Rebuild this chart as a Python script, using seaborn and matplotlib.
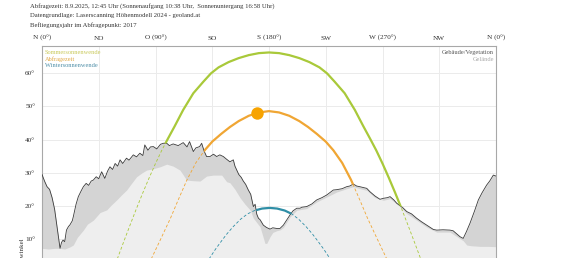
import numpy as np
import pandas as pd
import matplotlib
matplotlib.use("Agg")
import matplotlib.pyplot as plt
from matplotlib.patches import Polygon
import seaborn as sns

# ---------------- data ----------------
tick_az = [0, 45, 90, 135, 180, 225, 270, 315, 360]
tick_labels = ["N (0°)", "NO", "O (90°)", "SO", "S (180°)", "SW", "W (270°)", "NW", "N (0°)"]
ytick_vals = [10, 20, 30, 40, 50, 60]
ytick_labels = ["10°", "20°", "30°", "40°", "50°", "60°"]

header_lines = [
    "Abfragezeit: 8.9.2025, 12:45 Uhr (Sonnenaufgang 10:38 Uhr,  Sonnenuntergang 16:58 Uhr)",
    "Datengrundlage: Laserscanning Höhenmodell 2024 - geoland.at",
    "Befliegungsjahr im Abfragepunkt: 2017",
]
legend_left = ["Sommersonnenwende", "Abfragezeit", "Wintersonnenwende"]
legend_right = ["Gebäude/Vegetation", "Gelände"]

# horizon incl. buildings / vegetation
outer_az = [0, 2, 4, 6, 8, 10, 12, 13, 14.3, 15.5, 16.7, 18, 19.4, 21, 22, 24, 24.8, 27, 28.8, 31,
            32.8, 35, 37, 39, 40.7, 43, 45, 47.3, 49.8, 52, 53.9, 56, 58, 60, 61.9, 64, 67, 69, 72.4,
            75, 77.6, 80, 81.5, 84, 86, 88.3, 91, 94, 96.2, 98.9, 101, 104, 108, 112, 115, 117, 120,
            122, 125, 126.6, 128.5, 130.5, 133.2, 136, 138.5, 141, 143.8, 146, 149, 151.7, 153, 154.4,
            156, 158, 159.6, 161.5, 163.6, 165.5, 167.6, 169, 170.3, 171.6, 173, 175.5, 178, 180.8,
            183, 186.1, 188.7, 191.4, 194, 196.7, 199, 202, 204.6, 206, 209.9, 214, 217.8, 222, 225.8,
            231, 233.7, 238, 241.6, 244, 246.9, 249.5, 252, 257.5, 260, 264, 268, 270.7, 274, 276,
            279, 281.3, 286, 289.2, 293, 297, 301, 305, 310.3, 313, 318, 323.5, 326, 331.5, 334,
            336.5, 339.4, 343, 346, 349, 352.6, 355, 357.9, 360]
outer_el = [29.5, 27.5, 25.8, 25.0, 22.5, 19.0, 13.5, 10.7, 7.2, 9.0, 9.7, 9.2, 12.7, 13.8, 14.2,
            15.5, 16.7, 20.5, 22.8, 24.5, 25.8, 26.8, 26.2, 27.5, 27.8, 28.8, 28.2, 30.3, 28.3, 30.5,
            31.8, 31.0, 32.8, 32.0, 33.9, 32.8, 34.4, 33.8, 35.4, 34.8, 35.9, 35.2, 38.4, 36.8, 37.8,
            37.9, 37.2, 38.6, 38.9, 38.9, 38.2, 38.7, 38.2, 39.1, 37.8, 39.4, 36.4, 37.5, 37.9, 38.9,
            36.6, 34.9, 34.9, 35.6, 34.9, 35.4, 34.9, 34.2, 33.3, 33.9, 32.0, 30.8, 29.5, 28.6, 27.5,
            26.5, 24.8, 23.5, 19.8, 20.5, 17.5, 16.3, 15.8, 14.2, 13.5, 13.0, 13.4, 13.2, 13.2, 14.2,
            15.7, 17.3, 18.5, 19.3, 19.3, 19.6, 19.8, 20.6, 21.8, 22.5, 23.3, 24.8, 24.9, 25.2, 25.8,
            26.0, 26.6, 26.0, 25.8, 25.3, 24.3, 23.0, 22.0, 22.3, 22.5, 22.8, 21.8, 20.8, 19.5, 18.3,
            17.6, 16.3, 15.2, 14.2, 12.9, 12.7, 12.8, 12.7, 12.5, 10.7, 10.2, 12.2, 14.8, 18.5, 21.8,
            24.0, 26.3, 27.5, 29.3, 29.0]

# terrain only
inner_az = [0, 5, 10, 14, 18, 22, 24.8, 28, 32.8, 36, 40.7, 46, 51.3, 55, 59.2, 63, 67.1, 71, 75, 79,
            82.9, 88, 93.6, 98.9, 104, 109.4, 114.7, 120, 125.3, 130.5, 135.8, 142.5, 146.4, 149, 153,
            157, 161, 165, 167.6, 172.9, 176.8, 178.2, 180.8, 183, 186.1, 189, 191.4, 196.7, 202,
            209.9, 217.8, 225.8, 233.7, 241.6, 246.9, 252, 257.5, 264, 270.7, 276, 282.6, 289.2, 297,
            305, 313, 323.5, 331.5, 334, 336.8, 340, 347, 353, 360]
inner_el = [7.2, 7.0, 7.2, 7.2, 7.0, 7.6, 8.2, 10.5, 12.7, 14.5, 15.7, 18.0, 18.8, 20.3, 21.8, 23.3,
            24.8, 26.8, 28.8, 29.9, 30.8, 31.2, 31.8, 32.6, 32.0, 30.8, 27.8, 27.6, 27.5, 29.0, 29.3,
            29.3, 27.3, 27.0, 25.0, 22.5, 20.5, 18.8, 16.3, 13.7, 8.7, 8.7, 10.7, 12.0, 12.5, 12.8,
            13.5, 16.7, 18.7, 19.2, 21.2, 22.7, 24.2, 25.2, 25.8, 25.2, 24.7, 22.5, 21.7, 22.2, 20.2,
            17.7, 15.7, 13.6, 12.1, 12.1, 10.1, 9.5, 8.2, 8.0, 7.8, 7.8, 7.7]

# sun paths
summer_az = [55, 60, 65, 70, 75, 80, 85, 90, 95, 100, 105, 112, 120, 128, 134, 140, 148, 156, 164,
             172, 180, 188, 196, 204, 212, 220, 226, 232, 240, 248, 255, 260, 265, 270, 275, 280,
             285, 290, 295, 300, 305]
summer_el = [-1.2, 4.3, 9.4, 14.4, 19.3, 24.0, 28.5, 32.8, 36.8, 40.4, 43.9, 49.0, 54.0, 57.5,
             60.0, 61.8, 63.4, 64.6, 65.5, 66.1, 66.3, 66.1, 65.5, 64.6, 63.4, 61.8, 60.0, 57.5,
             54.0, 49.0, 43.9, 40.4, 36.8, 32.8, 28.5, 24.0, 19.3, 14.4, 9.4, 4.3, -1.2]

query_az = [80, 87, 94, 102, 108, 115, 122, 129, 135, 142, 149, 156, 164, 172, 180, 188, 196, 204,
            211, 218, 225, 231, 238, 245, 252, 258, 266, 273, 280]
query_el = [-1.5, 4.3, 9.9, 16.4, 21.8, 27.9, 33.0, 36.8, 39.4, 41.7, 43.8, 45.6, 47.2, 48.2, 48.6,
            48.2, 47.2, 45.6, 43.8, 41.7, 39.4, 36.8, 33.0, 27.9, 21.8, 16.4, 9.9, 4.3, -1.5]
sun_az = [170.3]
sun_el = [48.1]

winter_az = [125.5, 133, 137.5, 142.5, 146.5, 151.5, 157.5, 163, 168.5, 174.5, 180.5, 186.5,
             192.5, 198, 203.5, 209.5, 214.5, 218.5, 223.5, 228, 235.5]
winter_el = [-0.3, 4.3, 6.9, 9.5, 11.5, 13.7, 16.0, 17.6, 18.6, 19.2, 19.4, 19.2, 18.6, 17.6,
             16.0, 13.7, 11.5, 9.5, 6.9, 4.3, -0.3]

# ---------------- styling ----------------
sns.set_theme(style="white")
plt.rcParams["font.family"] = ["Liberation Serif", "DejaVu Serif"]

W, H = 579, 258
fig = plt.figure(figsize=(W / 100, H / 100), dpi=100)
fig.patch.set_facecolor("white")


def fx(px):
    return px / W


def fy(py):
    return 1 - py / H


y0_px, ytop_px, x0_px, x1_px = 272.2, 45.5, 42, 496
ax = fig.add_axes([fx(x0_px), fy(y0_px), fx(x1_px - x0_px), (y0_px - ytop_px) / H])
ax.set_xlim(0, 360)
ax.set_ylim(0, 68.4)
ax.set_facecolor("white")

GREEN = "#a9c93a"
ORANGE = "#f0a634"
TEAL = "#2f8ea6"
SUN = "#f7a300"

# grid
ax.set_xticks(tick_az)
ax.set_yticks(ytick_vals)
ax.grid(True, color="#ebebeb", linewidth=0.7, zorder=0)
ax.set_axisbelow(True)

# terrain
ax.fill_between(outer_az, -5, outer_el, color="#d4d4d4", linewidth=0, zorder=1)
ax.fill_between(inner_az, -5, inner_el, color="#eeeeee", linewidth=0, zorder=2)
sns.lineplot(x=outer_az, y=outer_el, ax=ax, sort=False, estimator=None, color="#3a3a3a",
             linewidth=0.6, zorder=3)

# clip region above the horizon
sky = Polygon(list(zip(outer_az, outer_el)) + [(360, 100), (0, 100)], closed=True,
              transform=ax.transData, facecolor="none", edgecolor="none")
ax.add_patch(sky)

for az, el, col in [(summer_az, summer_el, GREEN), (query_az, query_el, ORANGE),
                    (winter_az, winter_el, TEAL)]:
    sns.lineplot(x=az, y=el, ax=ax, sort=False, estimator=None, color=col, linewidth=0.6,
                 linestyle=(0, (3.5, 2.5)), zorder=4)
    sns.lineplot(x=az, y=el, ax=ax, sort=False, estimator=None, color=col, linewidth=1.6,
                 zorder=5)
    ax.lines[-1].set_clip_path(sky)

sns.scatterplot(x=sun_az, y=sun_el, ax=ax, color=SUN, s=80, linewidth=0, zorder=6)

# ticks / labels
ax.xaxis.tick_top()
ax.set_xticklabels(tick_labels, fontsize=5.2, color="#333333")
ax.set_yticklabels(ytick_labels, fontsize=5.2, color="#333333")
ax.tick_params(axis="x", length=0, pad=3.5)
ax.tick_params(axis="y", length=0, pad=5)
ax.set_xlabel("")
ax.set_ylabel("")
for side in ["left", "top", "right"]:
    ax.spines[side].set_color("#a8a8a8")
    ax.spines[side].set_linewidth(0.8)
ax.spines["bottom"].set_visible(False)

# legends inside
left_cols = ["#c9c95a", "#e0a845", "#4f8fa8"]
for i, (t, c) in enumerate(zip(legend_left, left_cols)):
    fig.text(fx(45), fy(52.5 + i * 6.6), t, fontsize=4.6, color=c, ha="left", va="center")
right_cols = ["#555555", "#aaaaaa"]
for i, (t, c) in enumerate(zip(legend_right, right_cols)):
    fig.text(fx(494), fy(52.5 + i * 6.6), t, fontsize=4.6, color=c, ha="right", va="center")

# header
for i, t in enumerate(header_lines):
    fig.text(fx(30), fy(6.2 + i * 9.6), t, fontsize=4.75, color="#333333", ha="left", va="center")

# y label (partially cut off like the reference)
fig.text(fx(22.5), fy(256), "Höhenwinkel", fontsize=5.0, color="#333333", rotation=90,
         ha="center", va="center")

fig.savefig("out.png", dpi=100)
